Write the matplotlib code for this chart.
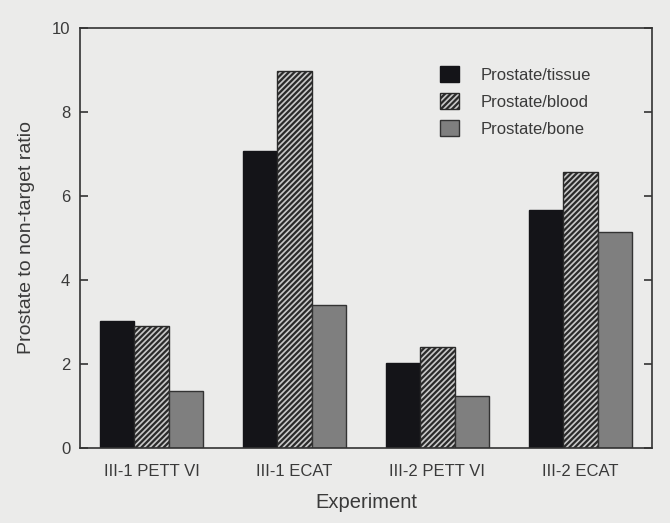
import numpy as np
import matplotlib.pyplot as plt
from matplotlib.patches import Patch

# -- data --
experiments = ["III-1 PETT VI", "III-1 ECAT", "III-2 PETT VI", "III-2 ECAT"]
series_names = ["Prostate/tissue", "Prostate/blood", "Prostate/bone"]
tissue = [3.03, 7.08, 2.01, 5.66]
blood = [2.90, 8.99, 2.40, 6.57]
bone = [1.34, 3.41, 1.23, 5.14]

plt.rcParams["font.family"] = ["Liberation Sans", "DejaVu Sans"]
plt.rcParams["hatch.linewidth"] = 1.6

bg = "#ebebea"
text_col = "#3a3a3a"

fig = plt.figure(figsize=(6.7, 5.23), dpi=100, facecolor=bg)
ax = fig.add_axes([0.1194, 0.144, 0.8536, 0.802])
ax.set_facecolor(bg)

x = np.arange(len(experiments))
w = 0.241
styles = [
    dict(color="#141418", edgecolor="#141418"),
    dict(color="#c8c8c8", edgecolor="#2a2a2a", hatch="//////"),
    dict(color="#7f7f7f", edgecolor="#333333"),
]
for i, (vals, st) in enumerate(zip([tissue, blood, bone], styles)):
    ax.bar(x + (i - 1) * w, vals, w, linewidth=1.0, **st)

ax.set_xlim(-0.5, 3.5)
ax.set_ylim(0, 10)
ax.set_yticks([0, 2, 4, 6, 8, 10])
ax.set_xticks(x)
ax.set_xticklabels(experiments)
ax.tick_params(axis="x", length=0, pad=12, labelsize=12, labelcolor=text_col)
ax.tick_params(axis="y", direction="in", length=6, width=1.2, pad=7,
               labelsize=12, labelcolor=text_col, right=True, color="#333333")
for s in ax.spines.values():
    s.set_color("#333333")
    s.set_linewidth(1.2)

ax.set_xlabel("Experiment", fontsize=14.5, color=text_col, labelpad=10)
ax.set_ylabel("Prostate to non-target ratio", fontsize=14, color=text_col, labelpad=12)

handles = [Patch(facecolor=st["color"], edgecolor=st.get("edgecolor"),
                 hatch=st.get("hatch"), label=n) for st, n in zip(styles, series_names)]
ax.legend(handles=handles, loc="upper left", bbox_to_anchor=(0.604, 0.945),
          frameon=False, fontsize=12, handlelength=1.1, handleheight=1.1,
          handletextpad=1.3, labelspacing=0.62, labelcolor=text_col)

plt.savefig("out.png", dpi=100, facecolor=bg)
